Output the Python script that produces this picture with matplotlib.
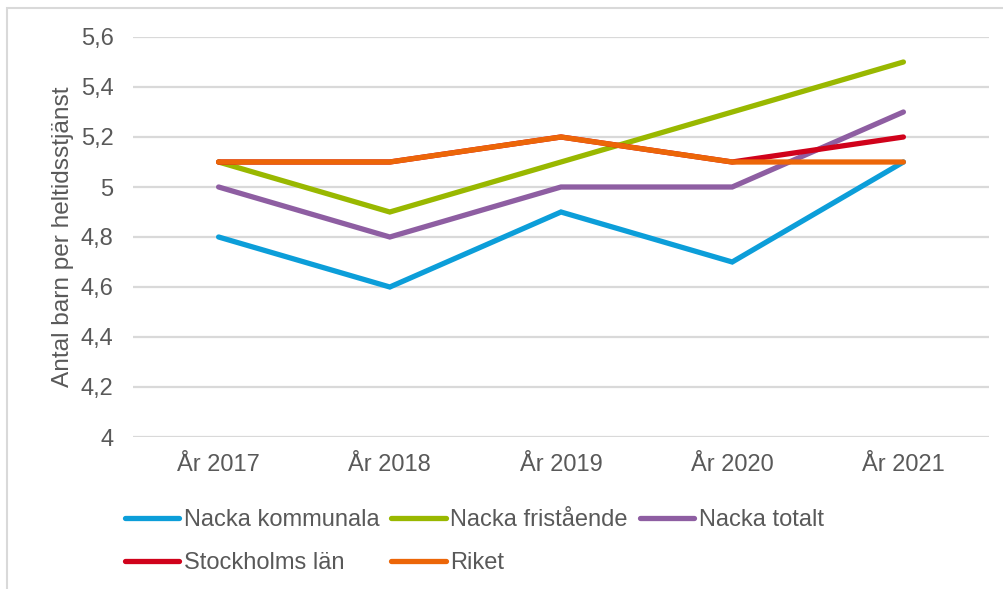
import matplotlib
matplotlib.use("Agg")
import matplotlib.pyplot as plt
from matplotlib.patches import Rectangle
from matplotlib.ticker import FixedLocator, FuncFormatter

categories = ["År 2017", "År 2018", "År 2019", "År 2020", "År 2021"]
nacka_kommunala = [4.8, 4.6, 4.9, 4.7, 5.1]
nacka_fristaende = [5.1, 4.9, 5.1, 5.3, 5.5]
nacka_totalt = [5.0, 4.8, 5.0, 5.0, 5.3]
stockholms_lan = [5.1, 5.1, 5.2, 5.1, 5.2]
riket = [5.1, 5.1, 5.2, 5.1, 5.1]
y_ticks = [4.0, 4.2, 4.4, 4.6, 4.8, 5.0, 5.2, 5.4, 5.6]

plt.rcParams['font.family'] = ['Liberation Sans', 'DejaVu Sans']
W, H = 1004, 589
FS = 17
fig = plt.figure(figsize=(W / 100, H / 100), dpi=100)
fig.patch.set_facecolor("white")

# outer chart frame (partly cut off at right/bottom)
fig.patches.append(Rectangle((7 / W, -0.1), 1.2, 1 - 8 / H + 0.1, transform=fig.transFigure,
                             fill=False, edgecolor="#d9d9d9", linewidth=1.5))

ax = fig.add_axes([133 / W, 1 - 437 / H, (989 - 133) / W, (437 - 37) / H])
x = list(range(len(categories)))
series = [
    ("Nacka kommunala", nacka_kommunala, "#0c9ed9"),
    ("Nacka fristående", nacka_fristaende, "#99b800"),
    ("Nacka totalt", nacka_totalt, "#8e5ea2"),
    ("Stockholms län", stockholms_lan, "#d0021b"),
    ("Riket", riket, "#ec6608"),
]
handles = {}
for name, vals, col in series:
    ln, = ax.plot(x, vals, color=col, linewidth=3.8, solid_capstyle="round",
                  solid_joinstyle="miter", label=name, zorder=3)
    handles[name] = ln

ax.set_xlim(-0.5, len(categories) - 0.5)
ax.set_ylim(4.0, 5.6)
ax.yaxis.set_major_locator(FixedLocator(y_ticks))
ax.yaxis.set_major_formatter(FuncFormatter(lambda v, p: (f"{v:.1f}".rstrip("0").rstrip(".")).replace(".", ",")))
ax.set_xticks(x)
ax.set_xticklabels(categories)
ax.grid(axis="y", color="#d9d9d9", linewidth=1.6, zorder=0)
for s in ax.spines.values():
    s.set_visible(False)
ax.tick_params(axis="both", length=0, labelsize=FS, colors="#595959")
ax.tick_params(axis="y", pad=14)
ax.tick_params(axis="x", pad=12)
ax.set_ylabel("Antal barn per heltidsstjänst", fontsize=17.6, color="#595959")
ax.yaxis.set_label_coords(-59 / (989 - 133), 0.5)

order = ["Nacka kommunala", "Stockholms län", "Nacka fristående", "Riket", "Nacka totalt"]
leg = fig.legend([handles[n] for n in order], order, ncol=3, loc="upper left",
                 bbox_to_anchor=(125 / W, 1 - 509 / H), frameon=False,
                 fontsize=FS, handlelength=2.3, handletextpad=0.2,
                 columnspacing=0.5, labelspacing=0.9, borderpad=0, borderaxespad=0)
for t in leg.get_texts():
    t.set_color("#595959")

fig.savefig("out.png", dpi=100, facecolor="white")
